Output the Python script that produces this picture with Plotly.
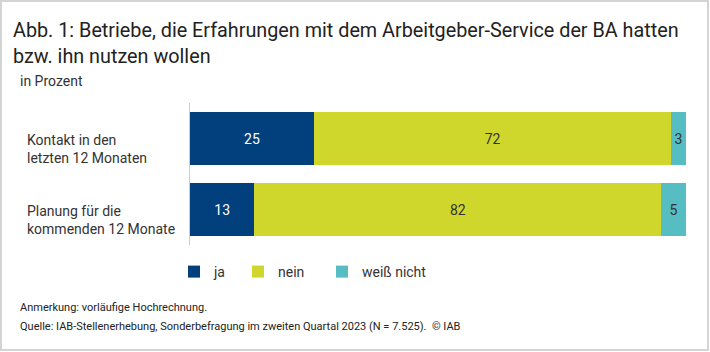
import plotly.graph_objects as go

categories = ["Kontakt in den<br>letzten 12 Monaten", "Planung für die<br>kommenden 12 Monate"]
series_names = ["ja", "nein", "weiß nicht"]
values_ja = [25, 13]
values_nein = [72, 82]
values_weiss = [3, 5]

title_text = "Abb. 1: Betriebe, die Erfahrungen mit dem Arbeitgeber-Service der BA hatten<br>bzw. ihn nutzen wollen"
subtitle_text = "in Prozent"
note_text = "Anmerkung: vorläufige Hochrechnung."
source_text = "Quelle: IAB-Stellenerhebung, Sonderbefragung im zweiten Quartal 2023 (N = 7.525).  © IAB"

W, H = 710, 352
L, R, T, B = 190, 24, 103, 107
PW, PH = W - L - R, H - T - B

def px(x):
    return (x - L) / PW

def py(y):
    return (H - B - y) / PH

FONT = "Roboto, sans-serif"
colors = ["#023f7d", "#cfd72c", "#56bec2"]
text_colors = ["#ffffff", "#333333", "#333333"]
legend_ids = ["legend", "legend2", "legend3"]
legend_x = [174, 238, 322]

fig = go.Figure()
for name, vals, c, tc, lg in zip(series_names, [values_ja, values_nein, values_weiss], colors, text_colors, legend_ids):
    fig.add_trace(go.Bar(
        y=categories, x=vals, name=name, orientation="h",
        marker=dict(color=c, line=dict(width=0)),
        text=vals, texttemplate="%{text}", textposition="inside",
        insidetextanchor="middle", textangle=0,
        textfont=dict(color=tc, size=14, family=FONT),
        hoverinfo="skip", legend=lg,
    ))

annotations = [
    dict(text=title_text, x=px(11), y=py(17), xref="paper", yref="paper",
         xanchor="left", yanchor="top", align="left", showarrow=False,
         font=dict(size=19.8, color="#222222", family=FONT)),
    dict(text=subtitle_text, x=px(18), y=py(71), xref="paper", yref="paper",
         xanchor="left", yanchor="top", align="left", showarrow=False,
         font=dict(size=14, color="#333333", family=FONT)),
    dict(text=note_text, x=px(18), y=py(299), xref="paper", yref="paper",
         xanchor="left", yanchor="top", align="left", showarrow=False,
         font=dict(size=11, color="#222222", family=FONT)),
    dict(text=source_text, x=px(18), y=py(318), xref="paper", yref="paper",
         xanchor="left", yanchor="top", align="left", showarrow=False,
         font=dict(size=11, color="#222222", family=FONT)),
]
for cat in categories:
    annotations.append(dict(text=cat, x=px(25), y=cat, xref="paper", yref="y",
                            xanchor="left", yanchor="middle", align="left", showarrow=False,
                            yshift=-10,
                            font=dict(size=14, color="#333333", family=FONT)))

legend_style = dict(orientation="h", yanchor="top", y=py(256), xanchor="left",
                    font=dict(size=14, color="#333333", family=FONT),
                    itemwidth=30, bgcolor="rgba(0,0,0,0)")
layout_legends = {}
for lg, lx in zip(legend_ids, legend_x):
    layout_legends[lg] = dict(legend_style, x=px(lx))

fig.update_layout(
    width=W, height=H,
    margin=dict(l=L, r=R, t=T, b=B),
    paper_bgcolor="white", plot_bgcolor="white",
    barmode="stack", bargap=0.24,
    showlegend=True,
    xaxis=dict(range=[0, 100], visible=False, fixedrange=True),
    yaxis=dict(autorange="reversed", showticklabels=False, showline=True,
               linecolor="#cccccc", linewidth=1, ticks="", showgrid=False, fixedrange=True),
    annotations=annotations,
    uniformtext=dict(minsize=14, mode="show"),
    shapes=[dict(type="rect", xref="paper", yref="paper",
                 x0=px(1), x1=px(708), y0=py(1), y1=py(350),
                 line=dict(color="#d4d4d4", width=2), layer="below")],
    **layout_legends,
)

fig.write_html("out.html")
